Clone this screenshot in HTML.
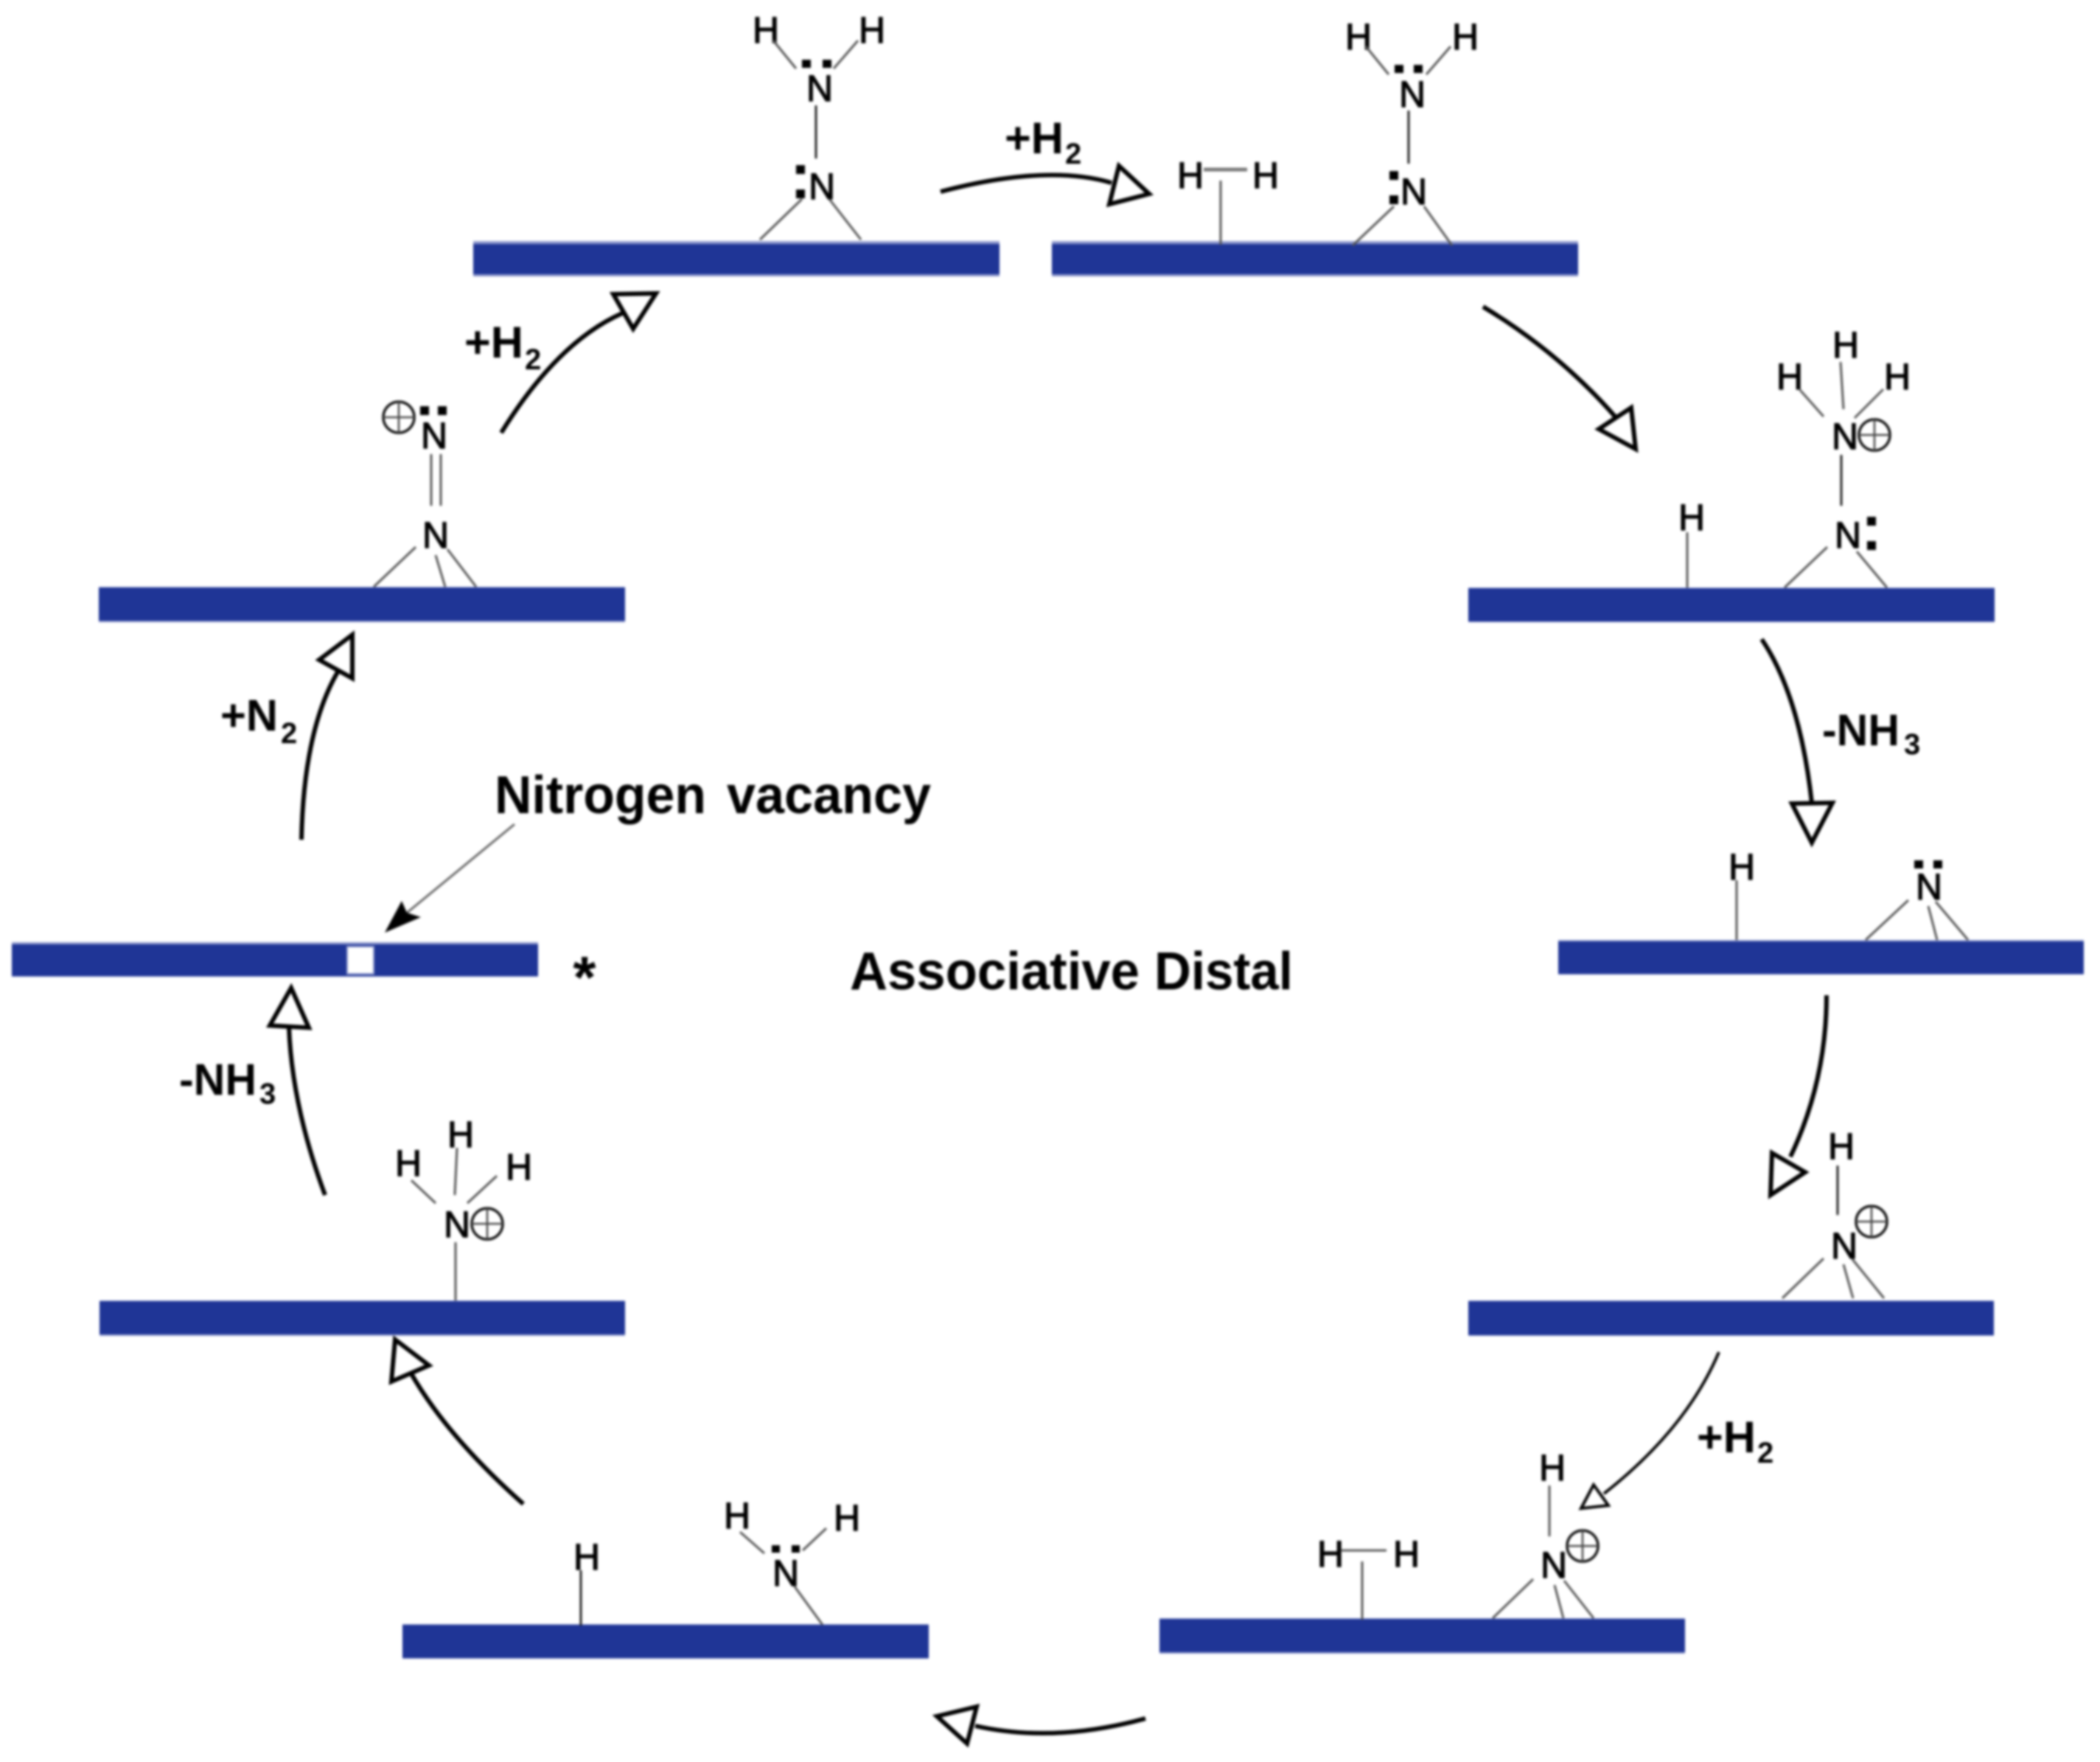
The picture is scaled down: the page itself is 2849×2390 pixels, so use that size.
<!DOCTYPE html>
<html>
<head>
<meta charset="utf-8">
<style>
html,body{margin:0;padding:0;background:#fff;width:2849px;height:2390px;overflow:hidden}
svg{display:block;filter:blur(1.6px)}
text{font-family:"Liberation Sans",sans-serif;fill:#000}
.a{font-size:50px;text-anchor:middle;stroke:#000;stroke-width:1.3px}
.l{font-size:60px;font-weight:bold}
.s{font-size:40px;font-weight:bold}
.t{font-size:72px;font-weight:bold}
.b{stroke:#555;stroke-width:3px;fill:none}
.k{stroke:#222;stroke-width:3px;fill:none}
.ar{stroke:#000;stroke-width:6px;fill:none}
.h{stroke:#000;stroke-width:6px;fill:#fff;stroke-linejoin:miter}
.e{fill:#8d98cc}
.f{fill:#1f3596}
.p{fill:#fff;stroke:#111;stroke-width:3.5px}
.q{stroke:#444;stroke-width:2.5px}
</style>
</head>
<body>
<svg width="2849" height="2390" viewBox="0 0 2849 2390" xmlns="http://www.w3.org/2000/svg">
<rect width="2849" height="2390" fill="#fff"/>

<!-- bars -->
<rect class="e" x="642" y="327" width="714" height="48"/><rect class="f" x="642" y="331" width="714" height="41"/>
<rect class="e" x="1427" y="327" width="714" height="48"/><rect class="f" x="1427" y="331" width="714" height="41"/>
<rect class="e" x="1992" y="797" width="714" height="47"/><rect class="f" x="1992" y="798" width="714" height="45"/>
<rect class="e" x="2114" y="1275" width="713" height="47"/><rect class="f" x="2114" y="1277" width="713" height="44"/>
<rect class="e" x="1992" y="1764" width="713" height="48"/><rect class="f" x="1992" y="1765" width="713" height="46"/>
<rect class="e" x="1573" y="2195" width="713" height="48"/><rect class="f" x="1573" y="2196" width="713" height="45"/>
<rect class="e" x="546" y="2203" width="714" height="47"/><rect class="f" x="546" y="2204" width="714" height="45"/>
<rect class="e" x="135" y="1764" width="713" height="48"/><rect class="f" x="135" y="1765" width="713" height="45"/>
<rect class="e" x="16" y="1278" width="714" height="47"/><rect class="f" x="16" y="1281" width="714" height="43"/>
<rect x="471" y="1284" width="36" height="37" fill="#fff" stroke="#8d98cc" stroke-width="2"/>
<rect class="e" x="134" y="796" width="714" height="48"/><rect class="f" x="134" y="797" width="714" height="45"/>

<!-- molecule 1 -->
<g>
<text class="a" x="1039" y="58">H</text><text class="a" x="1183" y="58">H</text>
<text class="a" x="1112" y="137">N</text><text class="a" x="1115" y="270">N</text>
<rect x="1088" y="81" width="12" height="11"/><rect x="1116" y="81" width="12" height="11"/>
<rect x="1080" y="224" width="12" height="12"/><rect x="1080" y="257" width="12" height="12"/>
<path class="b" d="M1049 55L1080 93M1164 55L1131 93M1088 270L1031 325M1125 270L1168 325"/>
<path class="k" d="M1107 143V215"/>
</g>

<!-- arrow 1 -->
<path class="ar" d="M1276 260Q1420 222 1508 248"/>
<path class="h" d="M1518 225L1559 263L1505 277Z"/>
<text class="l" x="1363" y="208" textLength="80" lengthAdjust="spacingAndGlyphs">+H</text><text class="s" x="1445" y="222">2</text>

<!-- molecule 2 -->
<g>
<text class="a" x="1843" y="67">H</text><text class="a" x="1988" y="67">H</text>
<text class="a" x="1916" y="145">N</text><text class="a" x="1918" y="277">N</text>
<rect x="1892" y="88" width="12" height="11"/><rect x="1918" y="88" width="12" height="11"/>
<rect x="1885" y="232" width="12" height="12"/><rect x="1885" y="265" width="12" height="12"/>
<text class="a" x="1615" y="255">H</text><text class="a" x="1717" y="255">H</text>
<path d="M1633 230H1692" stroke="#777" stroke-width="5"/>
<path class="b" d="M1656 245V332M1853 63L1884 101M1968 63L1935 101M1891 280L1835 333M1932 280L1970 333"/>
<path class="k" d="M1911 150V222"/>
</g>

<!-- arrow 2 -->
<path class="ar" d="M2012 416Q2115 478 2192 566"/>
<path class="h" d="M2213 553L2169 582L2219 609Z"/>

<!-- molecule 3 -->
<g>
<text class="a" x="2504" y="485">H</text><text class="a" x="2428" y="528">H</text><text class="a" x="2574" y="528">H</text>
<text class="a" x="2503" y="609">N</text>
<circle class="p" cx="2543" cy="590" r="21"/><path class="q" d="M2522 590H2564M2543 569V611"/>
<path class="b" d="M2497 491L2501 555M2442 529L2474 565M2555 528L2516 567M2479 742L2421 797M2519 748L2560 797"/>
<path class="k" d="M2498 617V686"/>
<text class="a" x="2507" y="743">N</text>
<rect x="2533" y="701" width="12" height="12"/><rect x="2533" y="734" width="12" height="12"/>
<text class="a" x="2295" y="719">H</text>
<path class="b" d="M2289 722V797" stroke-width="4"/>
</g>

<!-- arrow 3 -->
<path class="ar" d="M2390 867Q2442 944 2458 1089"/>
<path class="h" d="M2431 1090L2486 1089L2458 1143Z"/>
<text class="l" x="2472" y="1011" textLength="105" lengthAdjust="spacingAndGlyphs">-NH</text><text class="s" x="2583" y="1023">3</text>

<!-- molecule 4 -->
<g>
<text class="a" x="2363" y="1193">H</text>
<path class="b" d="M2356 1194V1275" stroke-width="4"/>
<text class="a" x="2617" y="1220">N</text>
<rect x="2597" y="1167" width="12" height="11"/><rect x="2623" y="1167" width="12" height="11"/>
<path class="b" d="M2589 1221L2531 1275M2616 1229L2628 1275M2626 1223L2670 1275"/>
</g>

<!-- arrow 4 -->
<path class="ar" d="M2478 1350Q2478 1466 2429 1569"/>
<path class="h" d="M2404 1564L2449 1590L2402 1621Z"/>

<!-- molecule 5 -->
<g>
<text class="a" x="2498" y="1572">H</text>
<path class="k" d="M2493 1581V1648"/>
<text class="a" x="2502" y="1707">N</text>
<circle class="p" cx="2539" cy="1657" r="21"/><path class="q" d="M2518 1657H2560M2539 1636V1678"/>
<path class="b" d="M2474 1707L2418 1761M2501 1715L2514 1761M2513 1708L2556 1761"/>
</g>

<!-- arrow 5 -->
<path class="ar" style="stroke-width:4px" d="M2332 1834Q2288 1938 2176 2026"/>
<path class="h" style="stroke-width:4px" d="M2162 2014L2145 2046L2182 2042Z"/>
<text class="l" x="2302" y="1970" textLength="80" lengthAdjust="spacingAndGlyphs">+H</text><text class="s" x="2384" y="1984">2</text>

<!-- molecule 6 -->
<g>
<text class="a" x="1805" y="2125">H</text><text class="a" x="1908" y="2125">H</text>
<path class="b" d="M1819 2103H1881M1848 2118V2197"/>
<text class="a" x="2106" y="2008">H</text>
<path class="b" d="M2102 2015V2084"/>
<text class="a" x="2108" y="2140">N</text>
<circle class="p" cx="2147" cy="2097" r="21"/><path class="q" d="M2126 2097H2168M2147 2076V2118"/>
<path class="b" d="M2080 2142L2025 2195M2109 2150L2121 2195M2122 2144L2162 2195"/>
</g>

<!-- arrow 6 -->
<path class="ar" d="M1554 2331Q1430 2365 1323 2341"/>
<path class="h" d="M1325 2315L1271 2328L1312 2365Z"/>

<!-- molecule 7 -->
<g>
<text class="a" x="796" y="2129">H</text>
<path class="k" d="M788 2130V2205"/>
<text class="a" x="1000" y="2073">H</text><text class="a" x="1149" y="2076">H</text>
<text class="a" x="1066" y="2151">N</text>
<rect x="1047" y="2096" width="11" height="10"/><rect x="1074" y="2096" width="11" height="10"/>
<path class="b" d="M1004 2078L1037 2107M1121 2073L1089 2103M1078 2152L1116 2204"/>
</g>

<!-- arrow 7 -->
<path class="ar" d="M710 2040Q606 1948 556 1860"/>
<path class="h" d="M536 1817L582 1852L531 1874Z"/>

<!-- molecule 8 -->
<g>
<text class="a" x="625" y="1556">H</text><text class="a" x="554" y="1595">H</text><text class="a" x="704" y="1600">H</text>
<text class="a" x="620" y="1678">N</text>
<circle class="p" cx="661" cy="1660" r="21"/><path class="q" d="M640 1660H682M661 1639V1681"/>
<path class="b" d="M620 1557L617 1621M558 1601L591 1632M674 1595L634 1632M618 1685V1764"/>
</g>

<!-- arrow 8 -->
<path class="ar" d="M441 1621Q396 1500 392 1393"/>
<path class="h" d="M366 1391L419 1394L395 1340Z"/>
<text class="l" x="243" y="1485" textLength="105" lengthAdjust="spacingAndGlyphs">-NH</text><text class="s" x="352" y="1497">3</text>

<!-- star -->
<text x="793" y="1353" style="font-size:80px;font-weight:bold;text-anchor:middle">*</text>

<!-- labels -->
<text class="t" x="671" y="1103" textLength="287" lengthAdjust="spacingAndGlyphs">Nitrogen</text>
<text class="t" x="986" y="1103" textLength="277" lengthAdjust="spacingAndGlyphs">vacancy</text>
<text class="t" x="1153" y="1342" textLength="393" lengthAdjust="spacingAndGlyphs">Associative</text>
<text class="t" x="1566" y="1342" textLength="188" lengthAdjust="spacingAndGlyphs">Distal</text>

<!-- pointer -->
<path d="M698 1118L540 1248" stroke="#666" stroke-width="3" fill="none"/>
<path d="M522 1265L545 1222L552 1238L571 1244Z" fill="#000"/>

<!-- arrow 9 -->
<path class="ar" d="M409 1139Q412 985 462 905"/>
<path class="h" d="M478 861L433 895L478 920Z"/>
<text class="l" x="299" y="991" textLength="78" lengthAdjust="spacingAndGlyphs">+N</text><text class="s" x="381" y="1008">2</text>

<!-- molecule 10 -->
<g>
<text class="a" x="589" y="608">N</text>
<rect x="570" y="551" width="12" height="12"/><rect x="594" y="551" width="12" height="12"/>
<circle class="p" cx="541" cy="566" r="21"/><path class="q" d="M520 566H562M541 545V587"/>
<path class="b" d="M585 616V686M598 616V686"/>
<text class="a" x="591" y="743">N</text>
<path class="b" d="M564 742L507 796M591 753L604 796M607 745L646 796"/>
</g>

<!-- arrow 10 -->
<path class="ar" d="M680 587Q756 464 844 425"/>
<path class="h" d="M832 399L890 398L859 446Z"/>
<text class="l" x="630" y="485" textLength="80" lengthAdjust="spacingAndGlyphs">+H</text><text class="s" x="712" y="501">2</text>
</svg>
</body>
</html>
